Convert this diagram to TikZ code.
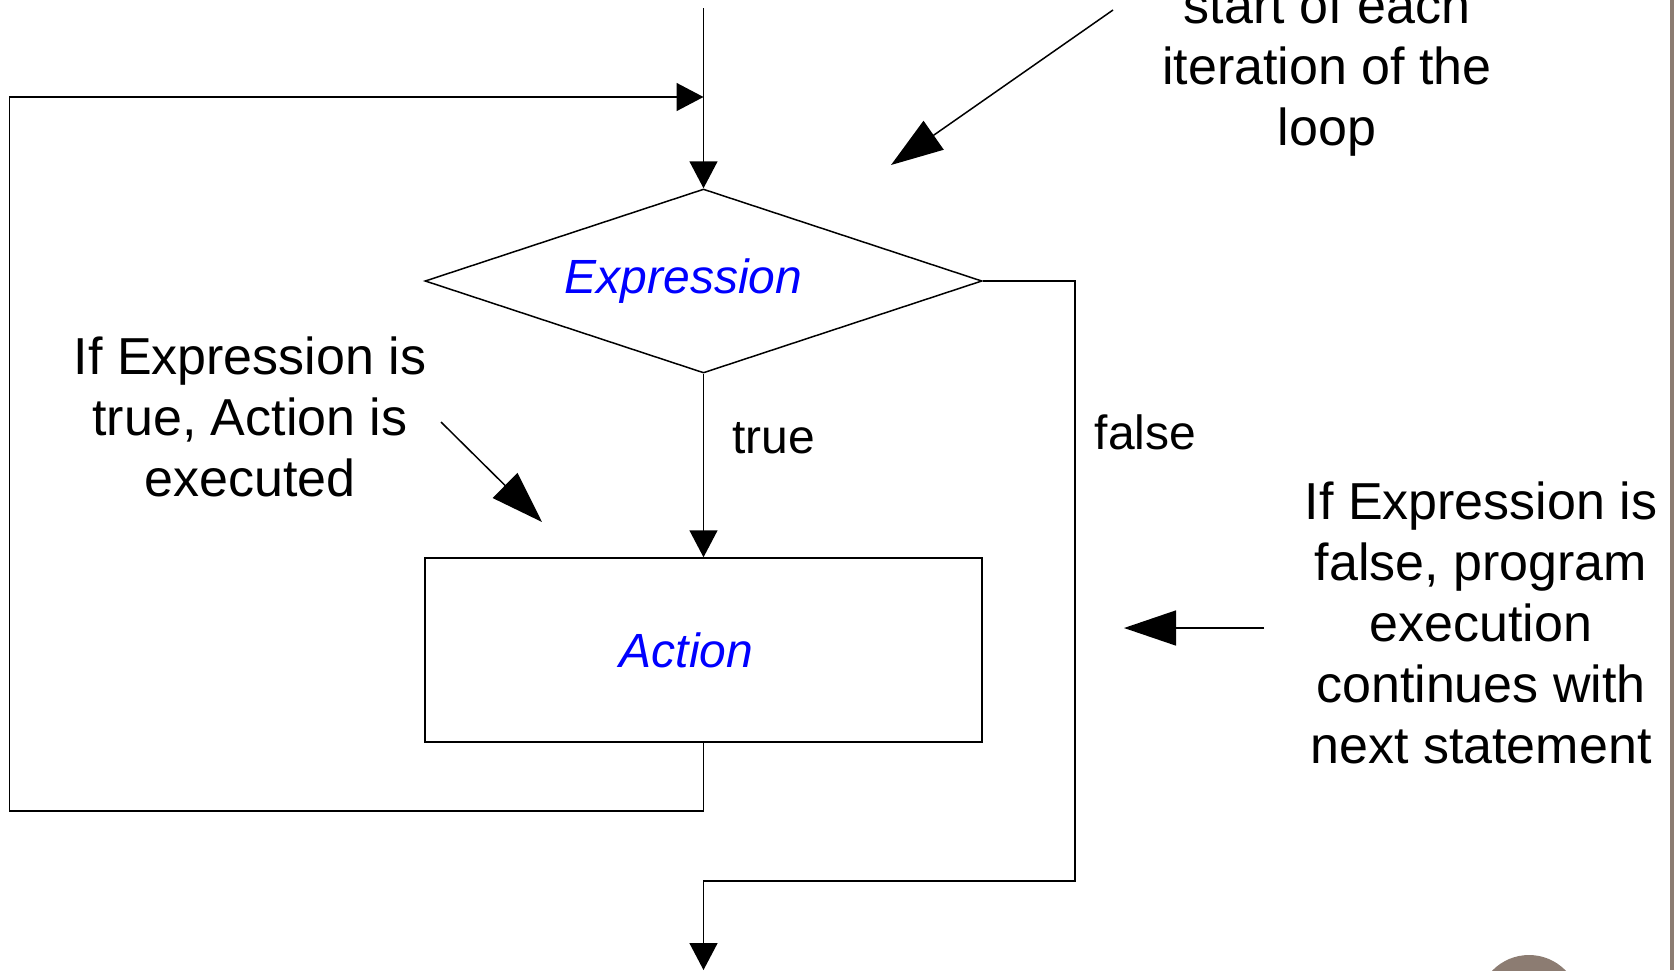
\documentclass[tikz,border=0pt]{standalone}
\usepackage{fontspec}
\setmainfont{Liberation Sans}
\usetikzlibrary{shapes.geometric,arrows.meta,positioning}
\definecolor{slidegray}{RGB}{140,124,114}

\begin{document}
\begin{tikzpicture}[x=0.5pt,y=-0.5pt,node distance=184.5pt,on grid,line width=0.75pt,
    flow/.style={-{Triangle[width=14pt,length=13.5pt]}},
    hint/.style={-{Triangle[width=17.5pt,length=26pt]}},
    decision/.style={diamond,draw,shape aspect=3,minimum width=278.5pt,minimum height=92pt,inner sep=0pt,
        text=blue,font=\fontsize{24}{28}\selectfont\itshape},
    block/.style={rectangle,draw,minimum width=278.5pt,minimum height=92pt,
        text=blue,font=\fontsize{24}{28}\selectfont\itshape},
    notetext/.style={align=center,font=\fontsize{26}{30.5}\selectfont},
    lbl/.style={font=\fontsize{24}{28}\selectfont,inner sep=0pt}]
    \useasboundingbox (0,0) rectangle (1674,970);
    \fill[slidegray] (1670,0) rectangle (1674,970);
    \fill[slidegray] (1529,1006) circle (25.5pt);

    \node[decision] (expr) at (703.5,281) {Expression\hspace*{20pt}};
    \node[block] (act) [below=of expr] {Action\hspace*{17pt}};

    \coordinate (start) at (703.5,8);
    \coordinate (merge) at (703.5,97);
    \coordinate (back)  at (9.5,811);
    \coordinate (out)   at (1075,881);
    \coordinate (exit)  at (703.5,970);

    \draw[flow] (start) -- (expr);
    \draw[flow] (act.south) |- (back) |- (merge);
    \draw[flow] (expr) -- node[lbl,pos=0.35,anchor=west,xshift=14pt] {true} (act);
    \draw[flow] (expr.east) -| node[lbl,pos=0.626,anchor=west,xshift=9.5pt] {false} (out) -| (exit);

    \node[notetext] (ntrue)  at (250,417)  {If Expression is\\true, Action is\\executed};
    \node[notetext] (nfalse) at (1481,623) {If Expression is\\false, program\\execution\\continues with\\next statement};
    \node[notetext] (ntop)   at (1327,71)  {start of each\\iteration of the\\loop};

    \coordinate (t1) at (441,422);  \coordinate (h1) at (542,522);
    \coordinate (t2) at (1264,628); \coordinate (h2) at (1124,628);
    \coordinate (t3) at (1113,10);  \coordinate (h3) at (891,165);
    \draw[hint] (t1) -- (h1);
    \draw[hint] (t2) -- (h2);
    \draw[hint] (t3) -- (h3);
\end{tikzpicture}
\end{document}
